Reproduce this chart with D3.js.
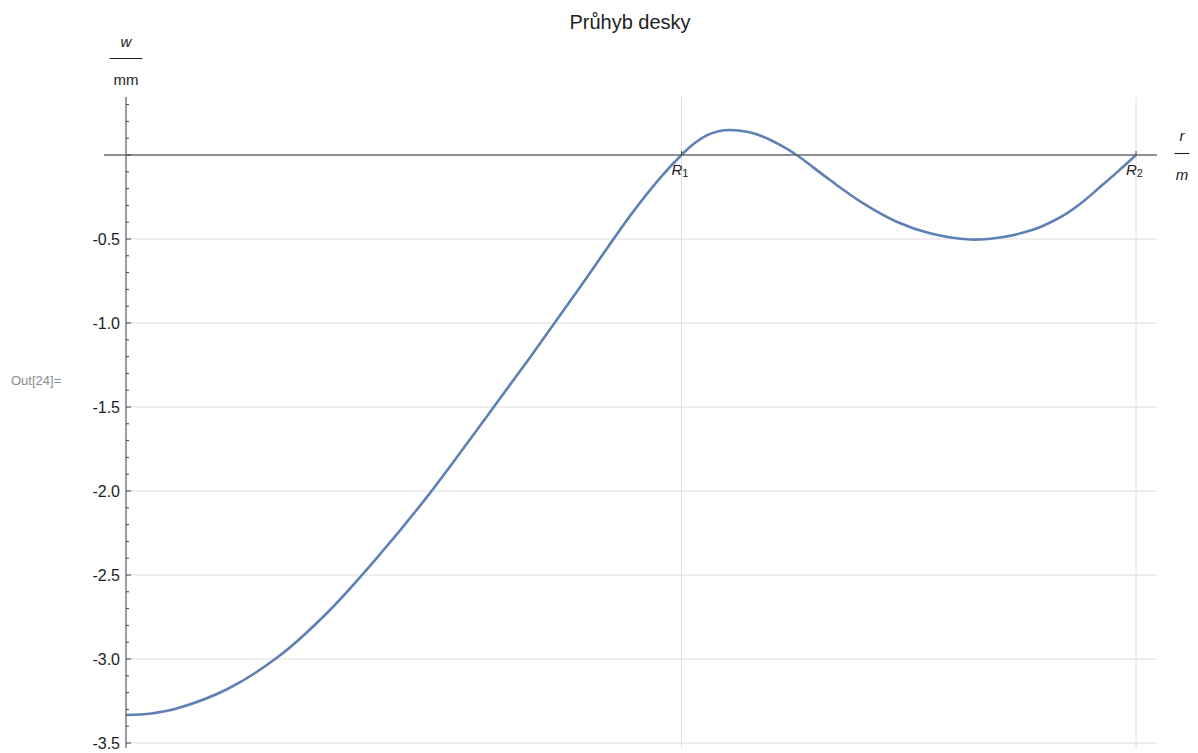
<!DOCTYPE html>
<html>
<head>
<meta charset="utf-8">
<script src="https://cdn.jsdelivr.net/npm/d3@7"></script>
<style>
  html, body { margin: 0; padding: 0; background: #fff; }
  svg { display: block; font-family: "Liberation Sans", Arial, sans-serif; }
</style>
</head>
<body>
<svg id="chart" width="1198" height="753"></svg>
<script>
// Plate deflection w(r) between the centre and the outer radius R2
const title = "Průhyb desky";
const R1 = 1.1;
const R2 = 2.0;
const radius = [0, 0.05, 0.1, 0.2, 0.3, 0.4, 0.5, 0.6, 0.7, 0.8, 0.9,
                1.0, 1.057, 1.1, 1.125, 1.149, 1.173, 1.196, 1.23, 1.262, 1.295, 1.328,
                1.394, 1.46, 1.526, 1.592, 1.671, 1.734, 1.797, 1.83, 1.863, 1.896, 1.929, 1.965, 2.0];
const deflection = [-3.333, -3.324, -3.295, -3.18, -2.99, -2.72, -2.387, -2.02, -1.616, -1.205, -0.783,
                    -0.355, -0.139, 0, 0.068, 0.115, 0.141, 0.149, 0.138, 0.109, 0.060, 0,
                    -0.149, -0.288, -0.397, -0.466, -0.503, -0.490, -0.444, -0.402, -0.347, -0.275, -0.19, -0.096, 0];
const yTickValues = [-0.5, -1.0, -1.5, -2.0, -2.5, -3.0, -3.5];
const yTickLabels = ["-0.5", "-1.0", "-1.5", "-2.0", "-2.5", "-3.0", "-3.5"];
const xMarks = [{ v: R1, sub: "1" }, { v: R2, sub: "2" }];

const svg = d3.select("#chart");

const x = d3.scaleLinear().domain([0, R2]).range([126, 1136]);
const y = d3.scaleLinear().domain([0, -3.5]).range([155, 743]);

const plotLeft = 104, plotRight = 1157, plotTop = 97, plotBottom = 748;
const x0 = x(0), y0 = y(0);

// horizontal grid lines
svg.append("g").selectAll("line").data(yTickValues).join("line")
  .attr("x1", x0).attr("x2", plotRight)
  .attr("y1", d => y(d)).attr("y2", d => y(d))
  .attr("stroke", "#dedede").attr("stroke-width", 1);

// vertical grid lines at R1 and R2
svg.append("g").selectAll("line").data(xMarks).join("line")
  .attr("x1", d => x(d.v)).attr("x2", d => x(d.v))
  .attr("y1", plotTop).attr("y2", plotBottom)
  .attr("stroke", "#dedede").attr("stroke-width", 1);

// deflection curve
const pts = radius.map((r, i) => [r, deflection[i]]);
svg.append("path")
  .datum(pts)
  .attr("fill", "none")
  .attr("stroke", "#5e81b5")
  .attr("stroke-width", 2.6)
  .attr("stroke-linejoin", "round")
  .attr("d", d3.line().x(d => x(d[0])).y(d => y(d[1])).curve(d3.curveCatmullRom.alpha(0.5)));

// horizontal axis
svg.append("line")
  .attr("x1", plotLeft).attr("x2", plotRight).attr("y1", y0).attr("y2", y0)
  .attr("stroke", "#6a6a6a").attr("stroke-width", 1.3);
svg.append("g").selectAll("line").data(xMarks).join("line")
  .attr("x1", d => x(d.v)).attr("x2", d => x(d.v))
  .attr("y1", y0).attr("y2", y0 - 4)
  .attr("stroke", "#444").attr("stroke-width", 1);
const rl = svg.append("g").selectAll("text").data(xMarks).join("text")
  .attr("x", d => x(d.v) - 10).attr("y", 175)
  .attr("font-size", 15).attr("fill", "#222");
rl.append("tspan").attr("font-style", "italic").text("R");
rl.append("tspan").attr("font-size", 11).attr("dy", 2).text(d => d.sub);

// vertical axis with major and minor ticks
svg.append("line")
  .attr("x1", x0).attr("x2", x0).attr("y1", plotTop).attr("y2", plotBottom)
  .attr("stroke", "#6a6a6a").attr("stroke-width", 1.3);
const minor = d3.range(-35, 4).map(k => k / 10).filter(v => Math.abs(v * 2 - Math.round(v * 2)) > 1e-6);
svg.append("g").selectAll("line").data(minor).join("line")
  .attr("x1", x0).attr("x2", x0 + 3)
  .attr("y1", d => y(d)).attr("y2", d => y(d))
  .attr("stroke", "#444").attr("stroke-width", 1);
svg.append("g").selectAll("line").data(yTickValues.concat([0])).join("line")
  .attr("x1", x0).attr("x2", x0 + 5)
  .attr("y1", d => y(d)).attr("y2", d => y(d))
  .attr("stroke", "#444").attr("stroke-width", 1);
svg.append("g").selectAll("text").data(yTickValues).join("text")
  .attr("x", x0 - 6).attr("y", d => y(d) + 5.5)
  .attr("text-anchor", "end").attr("font-size", 16).attr("fill", "#222")
  .text((d, i) => yTickLabels[i]);

// axis labels as fractions
function fraction(cx, numY, lineY, denY, w, num, den, numItalic, denItalic) {
  const g = svg.append("g");
  g.append("text").attr("x", cx).attr("y", numY).attr("text-anchor", "middle")
    .attr("font-size", 15).attr("font-style", numItalic ? "italic" : "normal")
    .attr("fill", "#222").text(num);
  g.append("line").attr("x1", cx - w / 2).attr("x2", cx + w / 2)
    .attr("y1", lineY).attr("y2", lineY).attr("stroke", "#222").attr("stroke-width", 1.1);
  g.append("text").attr("x", cx).attr("y", denY).attr("text-anchor", "middle")
    .attr("font-size", 15).attr("font-style", denItalic ? "italic" : "normal")
    .attr("fill", "#222").text(den);
}
fraction(126, 47, 58.5, 85, 33, "w", "mm", true, false);
fraction(1182, 141, 153.5, 180, 15, "r", "m", true, true);

// title
svg.append("text").attr("x", 630).attr("y", 29).attr("text-anchor", "middle")
  .attr("font-size", 20).attr("fill", "#222").text(title);

// cell output label
svg.append("text").attr("x", 11).attr("y", 385)
  .attr("font-size", 13).attr("fill", "#8a8a8a").text("Out[24]=");
</script>
</body>
</html>
